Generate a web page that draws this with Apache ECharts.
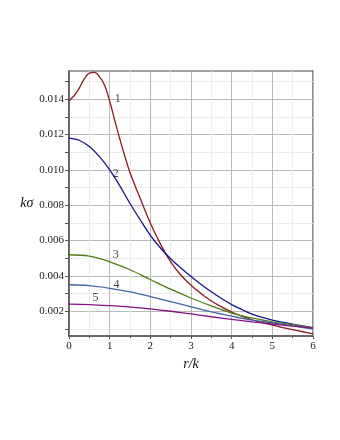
<!DOCTYPE html>
<html>
<head>
<meta charset="utf-8">
<script src="https://cdn.jsdelivr.net/npm/echarts@6/dist/echarts.min.js"></script>
<style>
  html, body { margin: 0; padding: 0; background: #fff; }
  #main { width: 340px; height: 440px; }
</style>
</head>
<body>
<div id="main"></div>
<script>
// curve 1: finer near the bump, then every 0.25
var x1 = [0, 0.125, 0.25, 0.375, 0.5, 0.625, 0.75, 0.875, 1, 1.125, 1.25, 1.5, 1.75, 2, 2.25, 2.5, 2.75, 3, 3.25, 3.5, 3.75, 4, 4.25, 4.5, 4.75, 5, 5.25, 5.5, 5.75, 6];
var y1 = [0.01392, 0.0142, 0.01462, 0.01515, 0.01548, 0.01552, 0.01528, 0.0148, 0.0139, 0.0128, 0.01175, 0.00985, 0.0084, 0.0070, 0.0058, 0.0048, 0.00405, 0.00347, 0.0030, 0.00258, 0.00225, 0.00196, 0.00172, 0.00152, 0.00136, 0.00122, 0.00108, 0.00096, 0.00084, 0.00072];
var x2 = [0, 0.25, 0.5, 0.75, 1, 1.25, 1.5, 1.75, 2, 2.25, 2.5, 2.75, 3, 3.25, 3.5, 3.75, 4, 4.25, 4.5, 4.75, 5, 5.25, 5.5, 5.75, 6];
var y2 = [0.0118, 0.01168, 0.01132, 0.01075, 0.0100, 0.0091, 0.0081, 0.00718, 0.0063, 0.00558, 0.00497, 0.00445, 0.00397, 0.00352, 0.0031, 0.00272, 0.00238, 0.0021, 0.00184, 0.00165, 0.0015, 0.00138, 0.00127, 0.00117, 0.00108];
var xs = [0, 0.5, 1, 1.5, 2, 2.5, 3, 3.5, 4, 4.5, 5, 5.5, 6];
var y3 = [0.0052, 0.00512, 0.0048, 0.00435, 0.0038, 0.00325, 0.00275, 0.0023, 0.0019, 0.00162, 0.0014, 0.00124, 0.00105];
var y4 = [0.0035, 0.00345, 0.0033, 0.0031, 0.00283, 0.00255, 0.00225, 0.00196, 0.00172, 0.0015, 0.00134, 0.00118, 0.00099];
var y5 = [0.0024, 0.00238, 0.00232, 0.00224, 0.00213, 0.002, 0.00185, 0.00169, 0.00154, 0.0014, 0.00128, 0.00116, 0.00105];

var yTicks = [0.001, 0.002, 0.003, 0.004, 0.005, 0.006, 0.007, 0.008, 0.009, 0.010, 0.011, 0.012, 0.013, 0.014, 0.015];
var yLabels = [0.002, 0.004, 0.006, 0.008, 0.010, 0.012, 0.014];

var labelText = ['1', '2', '3', '4', '5'];
var labelX = [1.2, 1.15, 1.15, 1.17, 0.65];
var labelY = [0.014, 0.0098, 0.0052, 0.0035, 0.00275];

var colors = ['#8c1a22', '#14148f', '#4f7d12', '#4467a6', '#8a0f86'];

function pairs(xa, ya) {
    var out = [];
    for (var i = 0; i < xa.length; i++) out.push([xa[i], ya[i]]);
    return out;
}

var serif = 'Liberation Serif, DejaVu Serif, serif';
var chart = echarts.init(document.getElementById('main'));

var lines = [[x1, y1], [x2, y2], [xs, y3], [xs, y4], [xs, y5]];
var series = [];
for (var k = 0; k < lines.length; k++) {
    series.push({
        type: 'line',
        data: pairs(lines[k][0], lines[k][1]),
        smooth: 0.35,
        symbol: 'none',
        lineStyle: { color: colors[k], width: 1.3 },
        z: 5
    });
}
var labelData = [];
for (var j = 0; j < labelText.length; j++) {
    labelData.push({ value: [labelX[j], labelY[j]], name: labelText[j] });
}
series.push({
    type: 'scatter',
    data: labelData,
    symbolSize: 0,
    silent: true,
    label: {
        show: true,
        position: 'inside',
        formatter: '{b}',
        fontFamily: serif,
        fontSize: 12,
        color: '#111'
    },
    z: 6
});

var option = {
    animation: false,
    backgroundColor: '#fff',
    grid: {
        left: 69, right: 27, top: 71, bottom: 104,
        show: true,
        borderColor: '#444',
        borderWidth: 1.2
    },
    xAxis: {
        type: 'value',
        min: 0, max: 6, interval: 1,
        name: 'r/k',
        nameLocation: 'middle',
        nameGap: 20,
        nameTextStyle: { fontFamily: serif, fontStyle: 'italic', fontSize: 14, color: '#111' },
        axisLine: { show: true, lineStyle: { color: '#555', width: 1.5 } },
        axisTick: { show: true, length: 3, lineStyle: { color: '#555' } },
        minorTick: { show: true, splitNumber: 2, length: 2, lineStyle: { color: '#555' } },
        axisLabel: { fontFamily: serif, fontSize: 11, color: '#222', margin: 5 },
        splitLine: { show: true, lineStyle: { color: '#b9b9b9', width: 1 } },
        minorSplitLine: { show: true, lineStyle: { color: '#ececec', width: 1 } }
    },
    yAxis: {
        type: 'value',
        min: 0.0006, max: 0.0156,
        name: 'kσ',
        nameLocation: 'middle',
        nameGap: 34,
        nameRotate: 0,
        nameTextStyle: { fontFamily: serif, fontStyle: 'italic', fontSize: 14, color: '#111' },
        axisLine: { show: true, lineStyle: { color: '#555', width: 1.5 } },
        axisTick: { show: true, length: 4, customValues: yTicks, lineStyle: { color: '#555' } },
        axisLabel: {
            fontFamily: serif, fontSize: 11, color: '#222', margin: 5,
            customValues: yLabels,
            formatter: function (v) { return v.toFixed(3); }
        },
        splitLine: {
            show: true,
            lineStyle: { color: ['#ececec', '#b9b9b9'], width: 1 }
        }
    },
    series: series
};
chart.setOption(option);
</script>
</body>
</html>
